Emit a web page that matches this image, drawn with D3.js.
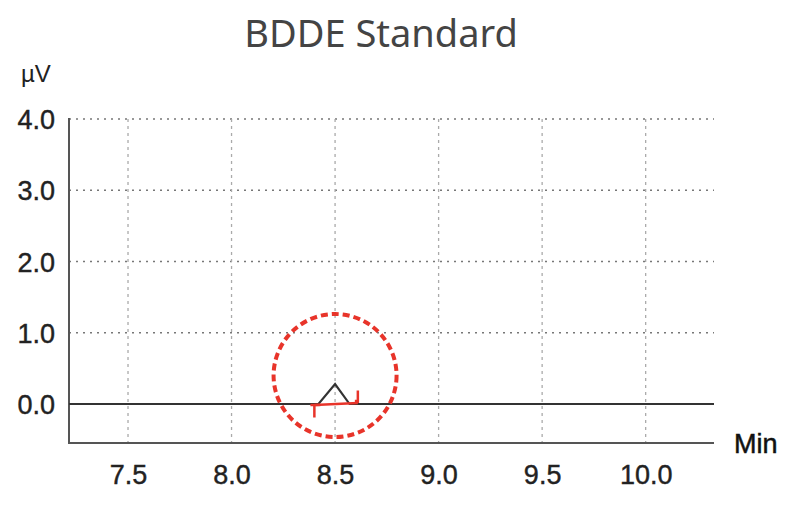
<!DOCTYPE html>
<html>
<head>
<meta charset="utf-8">
<script src="https://cdn.jsdelivr.net/npm/d3@7"></script>
<style>
body{margin:0;background:#fff;}
</style>
</head>
<body>
<script>
// chromatogram trace (min, uV)
var traceTime = [7.215, 8.42, 8.50, 8.57, 10.33];
var traceValue = [0, 0, 0.28, 0, 0];
var xTicks = [7.5, 8.0, 8.5, 9.0, 9.5, 10.0];
var yTicks = [0, 1, 2, 3, 4];
var peakStart = 8.40, peakEnd = 8.61, peakApex = 8.50;
var title = "BDDE Standard";

var W = 801, H = 521;
var svg = d3.select("body").append("svg")
	.attr("width", W).attr("height", H);

var x = d3.scaleLinear().domain([7.215, 10.33]).range([69, 714]);
var y = d3.scaleLinear().domain([-0.547, 4]).range([443, 119]);

svg.append("text")
	.attr("x", 381).attr("y", 47)
	.attr("text-anchor", "middle")
	.attr("font-family", "Noto Sans")
	.attr("font-size", 38)
	.attr("fill", "#444")
	.text(title);

// grid
var g = svg.append("g");
g.selectAll("line.hg")
	.data(yTicks.filter(function(d){return d > 0;}))
	.enter().append("line")
	.attr("x1", 69).attr("x2", 714)
	.attr("y1", function(d){return y(d);})
	.attr("y2", function(d){return y(d);})
	.attr("stroke", "#777").attr("stroke-width", 1.5)
	.attr("stroke-dasharray", "2,5");
g.selectAll("line.vg")
	.data(xTicks)
	.enter().append("line")
	.attr("x1", function(d){return x(d);})
	.attr("x2", function(d){return x(d);})
	.attr("y1", 119).attr("y2", 443)
	.attr("stroke", "#aaa").attr("stroke-width", 1.3)
	.attr("stroke-dasharray", "3,4");

// axes
var yAxis = d3.axisLeft(y).tickValues(yTicks).tickSize(0).tickPadding(14)
	.tickFormat(d3.format(".1f"));
var xAxis = d3.axisBottom(x).tickValues(xTicks).tickSize(0).tickPadding(22)
	.tickFormat(d3.format(".1f"));

var ya = svg.append("g").attr("transform", "translate(69,0)").call(yAxis);
var xa = svg.append("g").attr("transform", "translate(0,443)").call(xAxis);
[ya, xa].forEach(function(a){
	a.select(".domain").remove();
	a.selectAll("text")
		.attr("font-family", "Liberation Sans, Arial, sans-serif")
		.attr("font-size", 27)
		.attr("fill", "#222")
		.attr("stroke", "#222").attr("stroke-width", 0.4);
});
ya.selectAll("text").attr("dy", "0.36em");

svg.append("line").attr("x1", 69).attr("x2", 69).attr("y1", 118).attr("y2", 444)
	.attr("stroke", "#555").attr("stroke-width", 2);
svg.append("line").attr("x1", 68).attr("x2", 714).attr("y1", 443).attr("y2", 443)
	.attr("stroke", "#555").attr("stroke-width", 2);

svg.append("text").attr("x", 21).attr("y", 82)
	.attr("font-family", "Liberation Sans, Arial, sans-serif")
	.attr("font-size", 24).attr("fill", "#222").text("\u00b5V");
svg.append("text").attr("x", 734).attr("y", 453)
	.attr("font-family", "Liberation Sans, Arial, sans-serif")
	.attr("font-size", 27).attr("fill", "#111")
	.attr("stroke", "#111").attr("stroke-width", 0.5).text("Min");

// trace
var line = d3.line()
	.x(function(d,i){return x(traceTime[i]);})
	.y(function(d){return y(d);});
svg.append("path").datum(traceValue)
	.attr("d", line)
	.attr("fill", "none").attr("stroke", "#333").attr("stroke-width", 2.2);

// integration baseline and markers
var red = "#e8342a";
svg.append("line")
	.attr("x1", x(peakStart)).attr("x2", x(peakEnd))
	.attr("y1", y(0) + 1).attr("y2", y(0) - 1)
	.attr("stroke", red).attr("stroke-width", 2.5);
svg.append("path")
	.attr("d", "M" + (x(peakStart) - 4) + "," + (y(0) + 1) + "H" + (x(peakStart) + 6) +
		"M" + x(peakStart) + "," + (y(0) + 1) + "V" + y(-0.19))
	.attr("fill", "none").attr("stroke", red).attr("stroke-width", 2.5);
svg.append("path")
	.attr("d", "M" + x(peakEnd) + "," + y(0.19) + "V" + (y(0) - 1) +
		"M" + (x(peakEnd) - 3) + "," + (y(0) - 3) + "H" + x(peakEnd))
	.attr("fill", "none").attr("stroke", red).attr("stroke-width", 2.5);

svg.append("circle")
	.attr("cx", x(peakApex)).attr("cy", y(0.4))
	.attr("r", x(peakApex + 0.297) - x(peakApex))
	.attr("fill", "none").attr("stroke", red).attr("stroke-width", 4)
	.attr("stroke-dasharray", "7,4");
</script>
</body>
</html>
